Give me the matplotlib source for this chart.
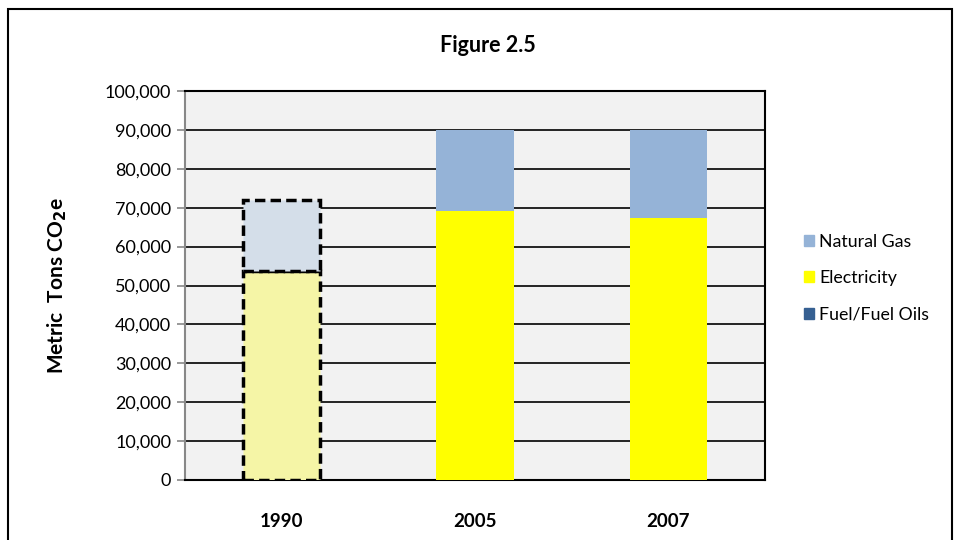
import matplotlib.pyplot as plt
import matplotlib.patches as mpatches
from matplotlib.ticker import FuncFormatter
import numpy as np

plt.rcParams['font.family'] = ['Lato', 'DejaVu Sans']

years = ['1990', '2005', '2007']
fuel_oils = [0, 0, 0]
electricity = [53600, 69100, 67400]
natural_gas = [18300, 20900, 22600]

fig = plt.figure(figsize=(9.56, 5.4), dpi=100)
fig.patch.set_facecolor('white')

# outer chart frame
fig.patches.append(mpatches.Rectangle((8 / 956, -0.05), 944 / 956, 1.05 - 9 / 540,
                                      transform=fig.transFigure, fill=False,
                                      edgecolor='black', linewidth=1.5))

ax = fig.add_axes([185 / 956, 1 - 480 / 540, 580 / 956, 389 / 540])
ax.set_facecolor('#F2F2F2')

x = np.arange(len(years))
w = 0.40
bottoms_e = np.array(fuel_oils)
bottoms_g = bottoms_e + np.array(electricity)

for i in range(len(years)):
    if i == 0:
        # 1990 baseline drawn as estimated (dashed outline)
        ax.bar(x[i], electricity[i], w, bottom=bottoms_e[i], color='#F5F5A6',
               edgecolor='black', linestyle=(0, (3, 1.5)), linewidth=2.5, zorder=3)
        ax.bar(x[i], natural_gas[i], w, bottom=bottoms_g[i], color='#D4DEE9',
               edgecolor='black', linestyle=(0, (3, 1.5)), linewidth=2.5, zorder=3)
    else:
        ax.bar(x[i], fuel_oils[i], w, color='#366092', zorder=3)
        ax.bar(x[i], electricity[i], w, bottom=bottoms_e[i], color='#FFFF00', zorder=3)
        ax.bar(x[i], natural_gas[i], w, bottom=bottoms_g[i], color='#95B3D7', zorder=3)

ax.set_xlim(-0.5, 2.5)
ax.set_ylim(0, 100000)
ax.set_yticks(np.arange(0, 100001, 10000))
ax.yaxis.set_major_formatter(FuncFormatter(lambda v, p: f'{int(v):,}'))
ax.grid(axis='y', color='black', linewidth=1.2, zorder=1)
ax.set_axisbelow(True)

ax.set_xticks(x)
ax.set_xticklabels(years, fontweight='bold', fontsize=13.5)
ax.tick_params(axis='x', length=0, pad=24)
ax.tick_params(axis='y', labelsize=13, color='#888888', length=6, width=1.2, pad=4)

for s in ['top', 'right', 'bottom']:
    ax.spines[s].set_color('black')
    ax.spines[s].set_linewidth(1.5)
ax.spines['left'].set_color('#888888')
ax.spines['left'].set_linewidth(1.5)

ax.set_ylabel('Metric  Tons CO$_\\mathbf{2}$e', fontsize=15, fontweight='bold', labelpad=26)

fig.text(488 / 956, 1 - 45 / 540, 'Figure 2.5', ha='center', va='center',
         fontsize=15.5, fontweight='bold')

handles = [mpatches.Patch(color='#95B3D7', label='Natural Gas'),
           mpatches.Patch(color='#FFFF00', label='Electricity'),
           mpatches.Patch(color='#366092', label='Fuel/Fuel Oils')]
fig.legend(handles=handles, loc='center left', bbox_to_anchor=(788 / 956, 1 - 278 / 540),
           frameon=False, fontsize=12.8, handlelength=0.55, handleheight=0.55,
           handletextpad=0.3, labelspacing=1.15)

fig.savefig('out.png', dpi=100, facecolor='white')
